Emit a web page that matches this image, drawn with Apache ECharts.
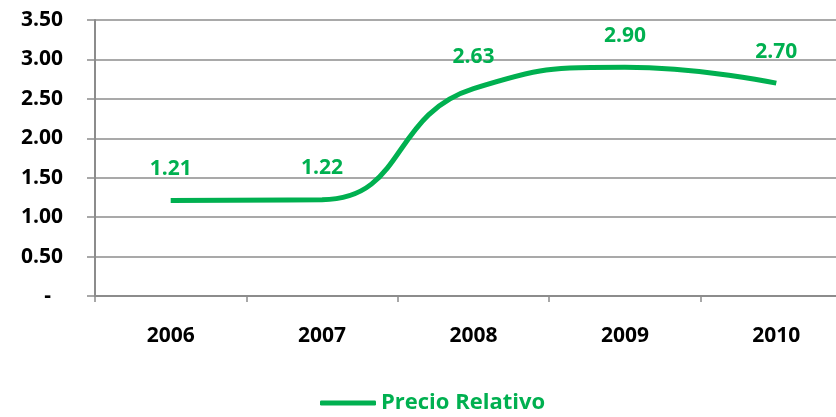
<!DOCTYPE html>
<html>
<head>
<meta charset="utf-8">
<script src="https://cdn.jsdelivr.net/npm/echarts@6/dist/echarts.min.js"></script>
<style>
  html, body { margin: 0; padding: 0; background: #fff; }
  #chart { width: 836px; height: 417px; }
</style>
</head>
<body>
<div id="chart"></div>
<script>
const years = ['2006', '2007', '2008', '2009', '2010']
const precioRelativo = [1.21, 1.22, 2.63, 2.90, 2.70]
const seriesName = 'Precio Relativo'

const GREEN = '#00b050'
const GRAY = '#8c8c8c'
const FONT = '"Open Sans", Lato, sans-serif'

const chart = echarts.init(document.getElementById('chart'))

chart.setOption({
  animation: false,
  grid: { left: 95, top: 20, width: 757, bottom: 121, outerBoundsMode: 'none' },
  legend: {
    top: 392,
    left: 320,
    padding: 0,
    icon: 'roundRect',
    itemWidth: 56,
    itemHeight: 5,
    itemGap: 4,
    textStyle: { color: GREEN, fontFamily: FONT, fontWeight: 'bold', fontSize: 22 },
    data: [seriesName]
  },
  xAxis: {
    type: 'category',
    data: years,
    axisLine: { lineStyle: { color: GRAY, width: 2 } },
    axisTick: { show: true, length: 6, lineStyle: { color: GRAY, width: 1.5 } },
    axisLabel: { color: '#000', fontFamily: FONT, fontWeight: 'bold', fontSize: 21, margin: 30 }
  },
  yAxis: {
    type: 'value',
    min: 0,
    max: 3.5,
    interval: 0.5,
    axisLine: { show: true, lineStyle: { color: GRAY, width: 2 } },
    axisTick: { show: true, length: 8, lineStyle: { color: GRAY, width: 1.5 } },
    splitLine: { lineStyle: { color: GRAY, width: 1.5 } },
    axisLabel: {
      color: '#000', fontFamily: FONT, fontWeight: 'bold', fontSize: 21, margin: 32,
      formatter: v => v === 0 ? '-\u2007' : v.toFixed(2)
    }
  },
  series: [{
    name: seriesName,
    type: 'line',
    data: precioRelativo,
    smooth: 0.5,
    symbol: 'circle',
    symbolSize: 0,
    showSymbol: true,
    lineStyle: { color: GREEN, width: 5 },
    itemStyle: { color: GREEN },
    label: {
      show: true,
      position: 'top',
      distance: 21,
      color: GREEN,
      fontFamily: FONT,
      fontWeight: 'bold',
      fontSize: 21,
      formatter: p => p.value.toFixed(2)
    }
  }]
})
</script>
</body>
</html>
